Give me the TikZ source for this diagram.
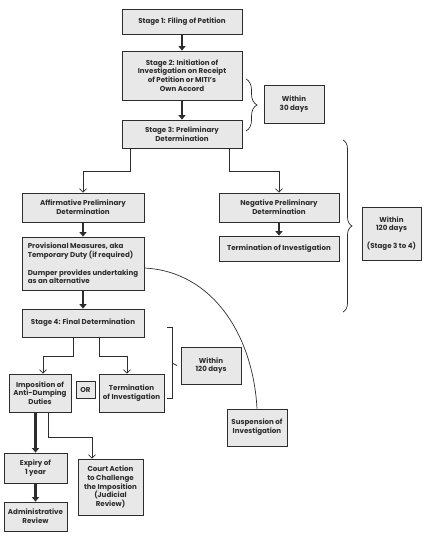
\documentclass[tikz,border=0pt]{standalone}
\usepackage{fontspec}
\setmainfont{Poppins}
\usetikzlibrary{arrows.meta,calc,decorations.pathreplacing}
\definecolor{boxgray}{RGB}{232,232,232}
\definecolor{ink}{RGB}{45,45,45}
\begin{document}
\begin{tikzpicture}[x=1pt,y=-1pt,
  box/.style={draw=ink,fill=boxgray,line width=0.8pt,align=center,inner sep=1pt,text=ink,font=\fontsize{7.1}{8.8}\selectfont\bfseries},
  fleche/.style={line width=2.2pt,ink,-{Triangle[length=4.5pt,width=7pt]}},
  lien/.style={line width=0.7pt,ink,-{Straight Barb[length=3.5pt,width=7pt]}},
  accolade/.style={decorate,decoration={brace,amplitude=#1},line width=0.7pt,ink}]
\useasboundingbox (0,0) rectangle (427,535);
% Procedure antidumping
\node[box,minimum width=120pt,minimum height=25pt] (s1) at (182,21.5) {Stage 1: Filing of Petition};
\node[box,minimum width=120pt,minimum height=49pt] (s2) at (182,75.5) {Stage 2: Initiation of\\Investigation on Receipt\\of Petition or MITI's\\Own Accord};
\node[box,minimum width=120pt,minimum height=28pt] (s3) at (182,134) {Stage 3: Preliminary\\Determination};
\node[box,minimum width=60pt,minimum height=38pt] (w30) at (294,104) {Within\\30 days};
\node[box,minimum width=122pt,minimum height=29pt] (aff) at (83,207.5) {Affirmative Preliminary\\Determination};
\node[box,minimum width=120pt,minimum height=29pt] (neg) at (279,207.5) {Negative Preliminary\\Determination};
\node[box,minimum width=122pt,minimum height=53pt,align=left] (prov) at (83,263.5) {Provisional Measures, aka\\Temporary Duty (if required)\\[8.8pt]Dumper provides undertaking\\as an alternative};
\node[box,minimum width=120pt,minimum height=25pt] (term1) at (279,248.5) {Termination of Investigation};
\node[box,minimum width=59pt,minimum height=53pt] (w120a) at (391.5,233.5) {Within\\120 days\\[8.8pt](Stage 3 to 4)};
\node[box,minimum width=122pt,minimum height=28pt] (s4) at (83,323) {Stage 4: Final Determination};
\node[box,minimum width=60pt,minimum height=37pt] (w120b) at (211,365.5) {Within\\120 days};
\node[box,minimum width=62pt,minimum height=38pt] (imp) at (40,393) {Imposition of\\Anti-Dumping\\Duties};
\node[box,minimum width=19pt,minimum height=17pt] (or) at (85.5,389.5) {OR};
\node[box,minimum width=65pt,minimum height=38pt] (term2) at (131.5,393) {Termination\\of Investigation};
\node[box,minimum width=60pt,minimum height=37pt] (susp) at (257,427.5) {Suspension of\\Investigation};
\node[box,minimum width=63pt,minimum height=30pt] (exp) at (35.5,468) {Expiry of\\1 year};
\node[box,minimum width=63pt,minimum height=29pt] (adm) at (35.5,516.5) {Administrative\\Review};
\node[box,minimum width=65pt,minimum height=56pt] (court) at (110.5,487) {Court Action\\to Challenge\\the Imposition\\(Judicial\\Review)};
\draw[fleche] (s1) -- (s2);
\draw[fleche] (s2) -- (s3);
\draw[lien] ($(s3.south)+(-52,0)$) -- ++(0,23) -| (aff.north);
\draw[lien] ($(s3.south)+(47,0)$) -- ++(0,23) -| (neg.north);
\draw[fleche] (aff) -- (prov);
\draw[fleche] (neg) -- (term1);
\draw[fleche] (prov) -- (s4);
\draw[lien] ($(s4.south)+(-10,0)$) -- ++(0,19) -| ($(imp.north)+(3,0)$);
\draw[lien] ($(s4.south)+(16,0)$) -- ++(0,19) -| ($(term2.north)+(-4.5,0)$);
\draw[fleche] (imp.south -| exp.north) -- (exp.north);
\draw[lien] ($(imp.south)+(8,0)$) -- ++(0,25) -| ($(court.north)+(-18.5,0)$);
\draw[fleche] (exp) -- (adm);
\draw[line width=0.7pt,ink] ($(prov.east)+(0,4.5)$) to[out=-3,in=93] (susp.north);
\draw[accolade=11pt] (246,79) -- (246,131);
\draw[accolade=9pt] (343,140) -- (343,312);
\draw[line width=0.7pt,ink] (167,327) -- (172,327) -- (172,398) -- (167,398);
\draw[line width=0.7pt,ink] (172,363) -- (w120b.west -| 177,0);
\end{tikzpicture}
\end{document}
